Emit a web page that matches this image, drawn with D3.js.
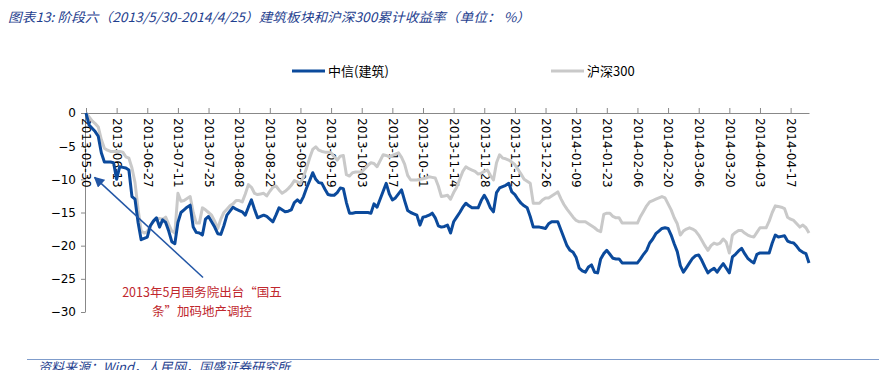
<!DOCTYPE html>
<html>
<head>
<meta charset="utf-8">
<script src="https://cdn.jsdelivr.net/npm/d3@7"></script>
<style>
  body { margin: 0; background: #fff; }
  svg { display: block; }
</style>
</head>
<body>
<div id="chart"></div>
<script>
// start of the window, one point per weekday
const startDate = "2013-05-30";
const nPoints = 237;

// 中信(建筑) cumulative return, %
const jianzhu = [
  0, -1.8, -2.3, -2.8, -3.5, -6.0, -7.4, -7.4, -7.4, -7.5,
  -10.0, -8.1, -8.2, -8.3, -8.6, -12.6, -13.0, -16.5, -19.1, -18.9,
  -18.7, -17.0, -16.3, -15.8, -17.2, -16.1, -16.5, -17.8, -19.4, -19.7,
  -16.5, -15.0, -14.6, -14.2, -13.9, -17.2, -18.0, -18.1, -18.4, -16.0,
  -15.6, -16.4, -17.2, -18.2, -18.3, -17.0, -15.4, -14.8, -14.2, -14.5,
  -14.7, -14.9, -15.4, -14.2, -13.1, -14.5, -15.8, -15.6, -15.4, -15.6,
  -16.0, -16.4, -15.4, -14.3, -14.6, -14.9, -14.8, -14.6, -13.5, -13.1,
  -13.5, -12.6, -11.3, -10.2, -9.0, -10.0, -10.5, -10.6, -11.5, -12.3,
  -12.4, -12.4, -12.0, -11.3, -11.4, -13.5, -15.1, -15.1, -15.0, -15.0,
  -15.0, -15.0, -15.0, -15.1, -13.7, -14.2, -13.0, -11.8, -10.6, -12.2,
  -13.1, -12.8, -12.2, -11.6, -13.2, -14.7, -15.0, -15.2, -15.4, -16.9,
  -15.7, -15.6, -15.4, -15.1, -15.8, -17.0, -17.2, -17.1, -16.9, -18.1,
  -16.4, -15.7, -15.0, -14.2, -13.6, -14.0, -14.3, -14.3, -14.3, -13.2,
  -12.4, -13.2, -14.3, -14.9, -12.0, -11.3, -11.1, -10.9, -10.6, -11.9,
  -12.3, -13.0, -13.6, -14.0, -14.3, -15.6, -17.2, -17.2, -17.2, -17.3,
  -17.4, -16.7, -16.4, -16.4, -16.4, -17.6, -18.8, -20.0, -20.7, -21.0,
  -21.8, -23.4, -23.8, -24.0, -23.2, -22.9, -24.0, -24.1, -22.0, -21.2,
  -20.7, -21.3, -21.9, -22.0, -22.0, -22.6, -22.6, -22.6, -22.6, -22.6,
  -22.6, -22.0, -21.3, -20.7, -19.6, -19.0, -18.2, -17.8, -17.4, -17.3,
  -17.4, -18.4, -19.7, -20.9, -23.0, -24.0, -23.3, -22.6, -21.9, -21.5,
  -21.4, -22.2, -23.2, -24.1, -23.7, -23.4, -24.0, -23.3, -22.7, -23.4,
  -24.1, -21.7, -21.3, -20.8, -20.4, -21.2, -21.9, -22.3, -22.6, -21.3,
  -21.1, -21.1, -21.1, -21.1, -19.6, -18.4, -18.7, -18.6, -18.5, -19.3,
  -19.5, -19.6, -20.1, -20.7, -21.0, -21.2, -22.6
];

// 沪深300 cumulative return, %
const hs300 = [
  0, -0.6, -1.2, -1.6, -2.1, -4.0, -5.3, -5.6, -5.8, -5.8,
  -5.8, -5.8, -5.9, -6.6, -6.8, -8.3, -10.5, -14.5, -17.8, -18.1,
  -17.9, -17.0, -16.3, -15.9, -15.9, -16.0, -15.7, -16.8, -17.8, -18.1,
  -12.1, -13.3, -13.2, -12.9, -12.6, -15.0, -16.6, -16.6, -14.3, -14.6,
  -15.0, -15.4, -16.3, -17.4, -16.0, -15.0, -14.5, -14.0, -13.7, -13.2,
  -13.2, -13.4, -12.2, -10.8, -11.2, -12.1, -12.3, -12.2, -12.1, -12.5,
  -11.8, -11.2, -11.0, -11.6, -12.1, -11.8, -11.4, -10.9, -10.2, -10.4,
  -10.6, -9.6, -8.3, -6.8, -5.5, -5.1, -5.6, -5.8, -5.9, -5.9,
  -6.0, -6.6, -7.1, -6.5, -6.4, -9.3, -9.5, -9.0, -8.9, -8.9,
  -8.9, -8.4, -7.9, -7.5, -7.6, -8.1, -7.2, -6.3, -6.4, -6.6,
  -6.4, -6.2, -6.0, -6.7, -7.7, -9.4, -10.1, -10.1, -10.1, -10.0,
  -9.9, -9.8, -9.6, -9.7, -9.8, -11.0, -12.6, -12.5, -12.4, -13.0,
  -12.0, -11.2, -10.0, -8.8, -8.1, -8.4, -8.6, -8.8, -9.2, -9.1,
  -8.8, -8.6, -9.4, -10.1, -7.5, -6.3, -6.8, -6.9, -7.1, -7.4,
  -7.8, -8.5, -9.2, -10.0, -10.3, -10.6, -13.6, -13.6, -13.6, -13.1,
  -12.8, -12.8, -12.5, -12.2, -11.9, -12.9, -13.8, -14.5, -15.1, -15.7,
  -16.2, -16.4, -16.4, -16.4, -16.7, -17.0, -17.3, -17.7, -17.9, -15.3,
  -15.1, -15.1, -15.6, -15.8, -15.8, -16.6, -16.6, -16.6, -16.6, -16.6,
  -16.6, -15.6, -14.8, -14.0, -13.4, -13.2, -13.0, -12.8, -12.6, -12.8,
  -13.7, -14.6, -15.8, -16.7, -18.4, -17.8, -17.5, -17.3, -17.5, -17.8,
  -18.4, -19.2, -20.0, -20.7, -20.0, -19.6, -19.8, -19.6, -19.0, -19.5,
  -21.1, -18.4, -18.0, -17.7, -17.7, -18.1, -18.4, -18.6, -18.7, -18.0,
  -17.3, -17.3, -17.3, -16.3, -15.0, -14.0, -14.1, -14.2, -14.4, -15.7,
  -16.0, -16.2, -16.7, -17.2, -16.9, -17.3, -18.1
];

const yTicks = [0, -5, -10, -15, -20, -25, -30];
const seriesNames = ["中信(建筑)", "沪深300"];
const seriesColors = ["#0b4a9c", "#c9c9c9"];

// weekday dates as categories
const parse = d3.timeParse("%Y-%m-%d");
const fmt = d3.timeFormat("%Y-%m-%d");
let dates = [];
let d0 = parse(startDate);
while (dates.length < nPoints) {
  if (d0.getDay() != 0 && d0.getDay() != 6) dates.push(d0);
  d0 = d3.timeDay.offset(d0, 1);
}

const width = 879, height = 370;
const svg = d3.select("#chart").append("svg")
  .attr("width", width)
  .attr("height", height);

const x = d3.scaleLinear().domain([0, nPoints - 1]).range([86, 809]);
const y = d3.scaleLinear().domain([0, -30]).range([113, 312]);

// title
svg.append("text")
  .attr("x", 8).attr("y", 22)
  .attr("font-family", "'Noto Sans CJK SC', sans-serif")
  .attr("font-size", "13px")
  .attr("font-style", "italic")
  .attr("fill", "#1f3f8f")
  .attr("textLength", 522)
  .attr("lengthAdjust", "spacingAndGlyphs")
  .text("图表13:  阶段六（2013/5/30-2014/4/25）建筑板块和沪深300累计收益率（单位：  %）");

// y axis
const yAxis = svg.append("g")
  .attr("transform", "translate(85,0)")
  .call(d3.axisLeft(y).tickValues(yTicks).tickSize(4).tickSizeOuter(0).tickFormat(d3.format("d")));
yAxis.select(".domain").attr("stroke", "#888");
yAxis.selectAll(".tick line").attr("stroke", "#888");
yAxis.selectAll("text")
  .attr("font-family", "'DejaVu Sans', sans-serif")
  .attr("font-size", "12px")
  .attr("fill", "#000")
  .attr("x", -9);

// x axis on the zero line, labels rotated
const tickIdx = d3.range(0, nPoints, 10);
const xAxis = svg.append("g")
  .attr("transform", "translate(0," + y(0) + ")")
  .call(d3.axisTop(x).tickValues(tickIdx).tickSize(5).tickSizeOuter(0)
    .tickFormat(i => fmt(dates[i])));
xAxis.select(".domain").attr("stroke", "#888");
xAxis.selectAll(".tick line").attr("stroke", "#888");
xAxis.selectAll("text")
  .attr("font-family", "'DejaVu Sans', sans-serif")
  .attr("font-size", "12px")
  .attr("fill", "#000")
  .attr("text-anchor", "start")
  .attr("x", 5).attr("y", 0).attr("dy", "0.35em")
  .attr("transform", "rotate(90)");

// lines
const line = d3.line().x((d, i) => x(i)).y(d => y(d));
[hs300, jianzhu].forEach((s, k) => {
  svg.append("path")
    .datum(s)
    .attr("fill", "none")
    .attr("stroke", k == 0 ? seriesColors[1] : seriesColors[0])
    .attr("stroke-width", 3)
    .attr("stroke-linejoin", "round")
    .attr("d", line);
});

// legend
const legend = svg.append("g").attr("font-family", "'Noto Sans CJK SC', sans-serif").attr("font-size", "13px");
[[292, 0], [551, 1]].forEach(p => {
  legend.append("line")
    .attr("x1", p[0]).attr("x2", p[0] + 33)
    .attr("y1", 71).attr("y2", 71)
    .attr("stroke", seriesColors[p[1]]).attr("stroke-width", 3);
  legend.append("text")
    .attr("x", p[0] + 36).attr("y", 76)
    .text(seriesNames[p[1]]);
});

// annotation arrow
svg.append("defs").append("marker")
  .attr("id", "head")
  .attr("viewBox", "0 0 10 10")
  .attr("refX", 9).attr("refY", 5)
  .attr("markerWidth", 7).attr("markerHeight", 7)
  .attr("orient", "auto")
  .append("path").attr("d", "M0,0L10,5L0,10z").attr("fill", "#2256a6");

svg.append("line")
  .attr("x1", x(38.2)).attr("y1", y(-24.8))
  .attr("x2", x(2.8)).attr("y2", y(-9.7))
  .attr("stroke", "#2256a6").attr("stroke-width", 1.5)
  .attr("marker-end", "url(#head)");

const note = svg.append("g")
  .attr("font-family", "'Noto Sans CJK SC', sans-serif")
  .attr("font-size", "12.5px")
  .attr("fill", "#c0272d")
  .attr("text-anchor", "middle");
note.append("text").attr("x", 202).attr("y", 297).text("2013年5月国务院出台“国五");
note.append("text").attr("x", 202).attr("y", 316).text("条”加码地产调控");

// footer
svg.append("line")
  .attr("x1", 27).attr("x2", width)
  .attr("y1", 359.5).attr("y2", 359.5)
  .attr("stroke", "#7f9ccb").attr("stroke-width", 1);
svg.append("text")
  .attr("x", 38).attr("y", 372)
  .attr("font-family", "'Noto Sans CJK SC', sans-serif")
  .attr("font-size", "13px")
  .attr("font-style", "italic")
  .attr("fill", "#1f3f8f")
  .text("资料来源：Wind，人民网，国盛证券研究所");
</script>
</body>
</html>
